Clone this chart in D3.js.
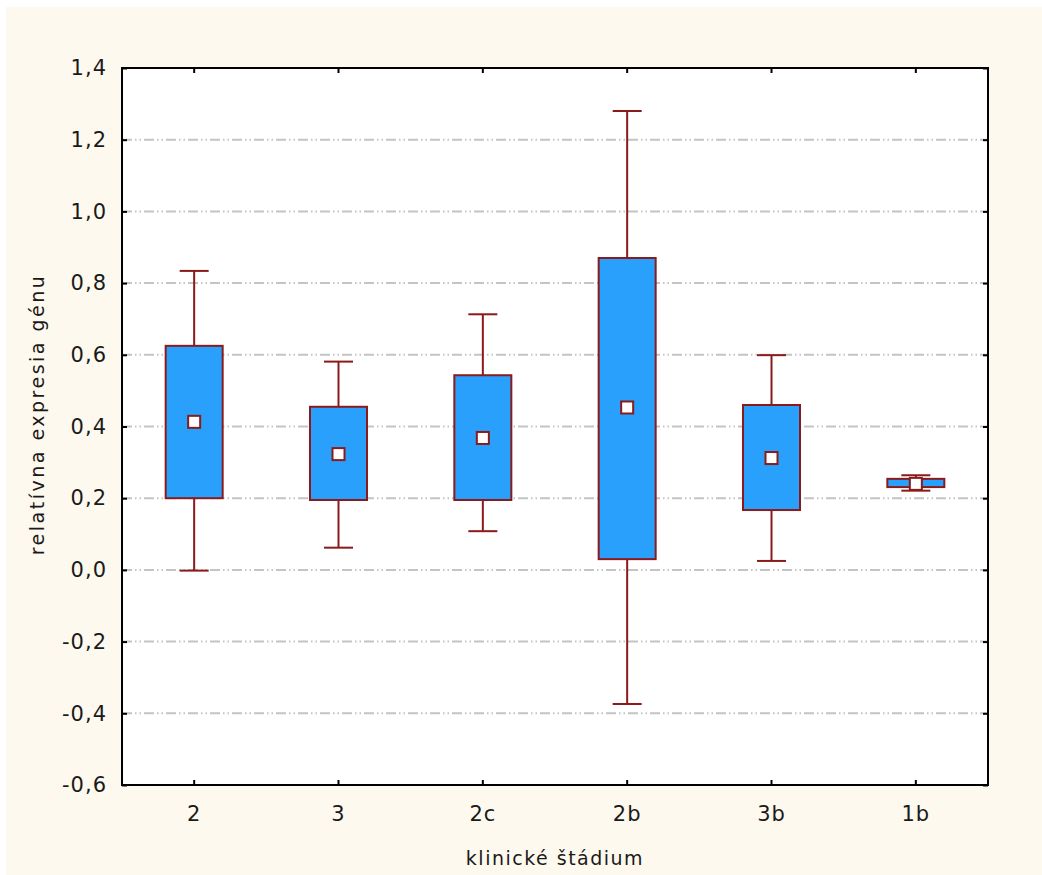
<!DOCTYPE html>
<html><head><meta charset="utf-8">
<script src="https://cdn.jsdelivr.net/npm/d3@7"></script>
<style>body{margin:0;background:#fff;} svg{display:block;}</style>
</head><body>
<script>
const categories = ["2","3","2c","2b","3b","1b"];
const means      = [0.413, 0.323, 0.368, 0.453, 0.312, 0.240];
const boxLow     = [0.200, 0.195, 0.195, 0.030, 0.167, 0.231];
const boxHigh    = [0.625, 0.455, 0.543, 0.870, 0.460, 0.254];
const whiskLow   = [-0.002, 0.062, 0.108, -0.374, 0.025, 0.221];
const whiskHigh  = [0.834, 0.581, 0.713, 1.280, 0.599, 0.264];
const yTicks = [-0.6,-0.4,-0.2,0.0,0.2,0.4,0.6,0.8,1.0,1.2,1.4];
const xTitle = "klinické štádium";
const yTitle = "relatívna expresia génu";

const W=1042,H=875;
const FONT="DejaVu Sans, Verdana, sans-serif";
const m={left:122,right:1042-988,top:68,bottom:875-785};
const svg=d3.select("body").append("svg").attr("width",W).attr("height",H);
svg.append("rect").attr("x",6).attr("y",7).attr("width",W-6).attr("height",H-7).attr("fill","#fef9ee");
const x=d3.scaleBand().domain(categories).range([m.left,W-m.right]);
const y=d3.scaleLinear().domain([-0.6,1.4]).range([H-m.bottom,m.top]);
const pw=W-m.right-m.left, ph=H-m.bottom-m.top;
svg.append("rect").attr("x",m.left).attr("y",m.top).attr("width",pw).attr("height",ph).attr("fill","#fff");
// grid
svg.append("g").selectAll("line").data(yTicks.slice(1,-1)).join("line")
  .attr("x1",m.left).attr("x2",W-m.right).attr("y1",d=>y(d)).attr("y2",d=>y(d))
  .attr("stroke","#c4c4c4").attr("stroke-width",2).attr("stroke-dasharray","10,3,1.5,3,1.5,3");
const fmt=d=>d3.format(".1f")(d).replace(".",",").replace("−","-");
// axes
const ax=svg.append("g").attr("font-family",FONT);
const gl=ax.append("g").attr("transform",`translate(${m.left},0)`).call(d3.axisLeft(y).tickValues(yTicks).tickFormat(fmt).tickSize(-5).tickPadding(15));
const gr=ax.append("g").attr("transform",`translate(${W-m.right},0)`).call(d3.axisRight(y).tickValues(yTicks).tickFormat("").tickSize(-5));
const gb=ax.append("g").attr("transform",`translate(0,${H-m.bottom})`).call(d3.axisBottom(x).tickSize(-5).tickPadding(19));
const gt=ax.append("g").attr("transform",`translate(0,${m.top})`).call(d3.axisTop(x).tickFormat("").tickSize(-5));
[gl,gr,gb,gt].forEach(g=>{g.select(".domain").remove();g.selectAll(".tick line").attr("stroke","#000").attr("stroke-width",2);
  g.selectAll("text").attr("font-size",21).attr("fill","#1a1a1a").attr("letter-spacing","1px").attr("font-family",FONT);});
gb.selectAll("text").attr("dy","0.8em");
svg.append("rect").attr("x",m.left).attr("y",m.top).attr("width",pw).attr("height",ph).attr("fill","none").attr("stroke","#000").attr("stroke-width",2);
// boxes
const red="#8b1a1a", bw=57, cw=29, ms=12;
const g=svg.append("g");
categories.forEach((c,i)=>{
  const cx=x(c)+x.bandwidth()/2;
  g.append("line").attr("x1",cx).attr("x2",cx).attr("y1",y(whiskHigh[i])).attr("y2",y(whiskLow[i])).attr("stroke",red).attr("stroke-width",2);
  [whiskHigh[i],whiskLow[i]].forEach(v=>g.append("line").attr("x1",cx-cw/2).attr("x2",cx+cw/2).attr("y1",y(v)).attr("y2",y(v)).attr("stroke",red).attr("stroke-width",2));
  g.append("rect").attr("x",cx-bw/2).attr("width",bw).attr("y",y(boxHigh[i])).attr("height",y(boxLow[i])-y(boxHigh[i]))
    .attr("fill","#28a0fc").attr("stroke",red).attr("stroke-width",2);
  g.append("rect").attr("x",cx-ms/2).attr("y",y(means[i])-ms/2).attr("width",ms).attr("height",ms).attr("fill","#fff").attr("stroke",red).attr("stroke-width",2);
});
svg.append("text").attr("x",(m.left+W-m.right)/2).attr("y",865).attr("text-anchor","middle")
  .attr("font-family",FONT).attr("font-size",19).attr("letter-spacing","1.5px").attr("fill","#1a1a1a").text(xTitle);
svg.append("text").attr("transform",`translate(44,${(m.top+H-m.bottom)/2-12}) rotate(-90)`).attr("text-anchor","middle")
  .attr("font-family",FONT).attr("font-size",19).attr("letter-spacing","2.5px").attr("fill","#1a1a1a").text(yTitle);
</script>
</body></html>
